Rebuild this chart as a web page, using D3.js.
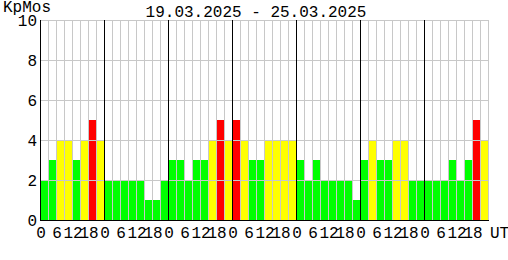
<!DOCTYPE html>
<html><head><meta charset="utf-8">
<script src="https://cdn.jsdelivr.net/npm/d3@7"></script>
<style>body{margin:0;background:#fff}svg{display:block}text{font-family:"Liberation Mono","Courier New",monospace;font-size:16px;fill:#000}</style>
</head><body>
<script>
const days = ["19.03","20.03","21.03","22.03","23.03","24.03","25.03"];
const hourLabels = ["0","6","12","18"];
const yTicks = [0,2,4,6,8,10];
const kp = [
  2,3,4,4,3,4,5,4,
  2,2,2,2,2,1,1,2,
  3,3,2,3,3,4,5,4,
  5,4,3,3,4,4,4,4,
  3,2,3,2,2,2,2,1,
  3,4,3,3,4,4,2,2,
  2,2,2,3,2,3,5,4
];
const title = "19.03.2025 - 25.03.2025";
const yTitle = "KpMos";
const unitLabel = "UT";

const W=508,H=260;
const svg=d3.select("body").append("svg").attr("width",W).attr("height",H);
const x=d3.scaleLinear().domain([0,kp.length]).range([40,488]);
const y=d3.scaleLinear().domain([0,10]).range([220,20]);
const color=v=>v>=5?"#ff0000":(v>=4?"#ffff00":"#00ff00");

// bars
svg.selectAll("rect.bar").data(kp).enter().append("rect")
  .attr("x",(d,i)=>x(i)+1).attr("width",x(1)-x(0)-1)
  .attr("y",d=>y(d)).attr("height",d=>y(0)-y(d))
  .attr("fill",color);

// grid
const g=svg.append("g").attr("stroke","#c8c8c8").attr("stroke-width",1);
d3.range(1,kp.length+1).forEach(i=>{
  g.append("line").attr("x1",Math.round(x(i))+0.5).attr("x2",Math.round(x(i))+0.5).attr("y1",y(10)).attr("y2",y(0));
});
yTicks.filter(t=>t>0).forEach(t=>{
  g.append("line").attr("x1",x(0)).attr("x2",x(kp.length)+1).attr("y1",y(t)+0.5).attr("y2",y(t)+0.5);
});
// day separators
days.forEach((dd,i)=>{
  if(i>0) svg.append("line").attr("stroke","#000").attr("x1",x(i*8)+0.5).attr("x2",x(i*8)+0.5).attr("y1",y(10)).attr("y2",y(0));
});
// axes
svg.append("line").attr("stroke","#000").attr("x1",x(0)+0.5).attr("x2",x(0)+0.5).attr("y1",y(10)).attr("y2",y(0)+1);
svg.append("line").attr("stroke","#000").attr("x1",x(0)).attr("x2",x(kp.length)+1).attr("y1",y(0)+0.5).attr("y2",y(0)+0.5);

// y labels
yTicks.forEach(t=>{
  svg.append("text").attr("x",37).attr("y",y(t)+6).attr("text-anchor","end").text(t);
});
// x labels
days.forEach((dd,di)=>{
  hourLabels.forEach((h,hi)=>{
    svg.append("text").attr("x",x(di*8+(+h)/3)+1).attr("y",238).attr("text-anchor","middle").text(h);
  });
});
svg.append("text").attr("x",490).attr("y",238).text(unitLabel);
svg.append("text").attr("x",256).attr("y",17).attr("text-anchor","middle").text(title);
svg.append("text").attr("x",3).attr("y",12).text(yTitle);
</script>
</body></html>
